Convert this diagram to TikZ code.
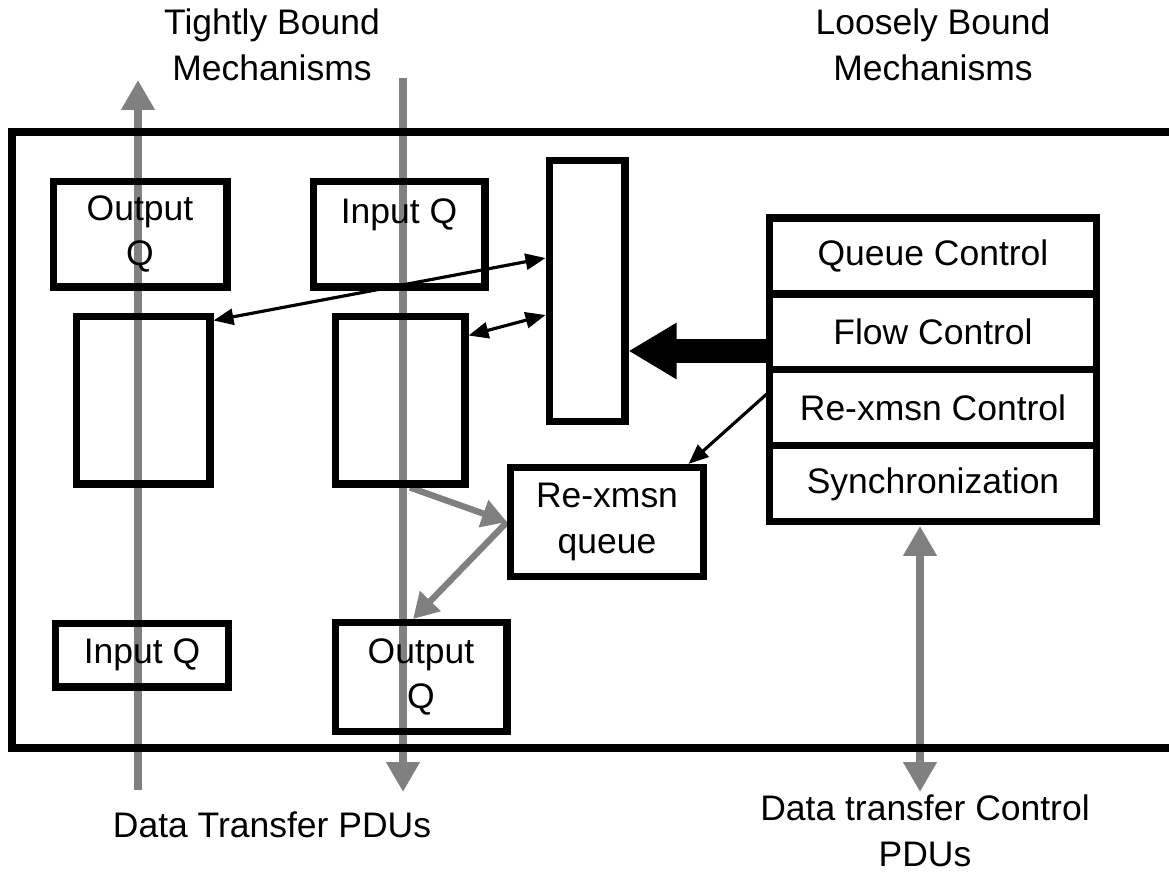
\documentclass[tikz,border=0pt]{standalone}
\usepackage{fontspec}
\setmainfont{Liberation Sans}
\usetikzlibrary{positioning,arrows.meta,backgrounds}
\tikzstyle{box} = [rectangle, draw=black, line width=4pt, inner sep=0pt, align=center]
\tikzstyle{ctrl} = [box, minimum width=6.56cm, minimum height=1.52cm, outer sep=0pt]
\tikzstyle{arrow} = [line width=1.8pt, -{Triangle[length=0.4cm,width=0.32cm]}]
\tikzstyle{darrow} = [arrow, {Triangle[length=0.4cm,width=0.32cm]}-{Triangle[length=0.4cm,width=0.32cm]}]
\tikzstyle{pdu} = [gray, line width=4.5pt, -{Triangle[length=0.6cm,width=0.64cm]}]
\tikzstyle{retx} = [gray, line width=3.6pt, -{Triangle[length=0.5cm,width=0.55cm]}]
\tikzstyle{big} = [line width=14pt, -{Triangle[length=0.96cm,width=1.06cm]}]

\begin{document}
\begin{tikzpicture}[x=0.02cm, y=-0.02cm, font=\fontsize{20.2}{26}\selectfont]
	\useasboundingbox (0,0) rectangle (1169,876);
	\clip (0,0) rectangle (1169,876);
	% outer frame, open to the right
	\draw[line width=4pt] (12,132) rectangle (1240,748);
	% headings
	\node[align=center] (tight) at (272,45) {Tightly Bound\\Mechanisms};
	\node[align=center] (loose) at (933,45) {Loosely Bound\\Mechanisms};
	\node (dtp) at (272,825) {Data Transfer PDUs};
	\node[align=center, inner sep=0pt] (dtcp) at (925,831) {Data transfer Control\\PDUs};
	% tightly bound part
	\node[box, minimum width=3.48cm, minimum height=2.12cm] (outQa) at (140,234) {Output\\Q};
	\node[box, minimum width=3.44cm, minimum height=2.12cm, label={[yshift=-1.2cm]north:Input Q}] (inQa) at (399,234) {};
	\node[box, minimum width=1.52cm, minimum height=5.24cm] (tall) at (587,291) {};
	\node[box, minimum width=2.68cm, minimum height=3.36cm] (lbox) at (143,400) {};
	\node[box, minimum width=2.6cm, minimum height=3.36cm] (mbox) at (400,400) {};
	\node[box, minimum width=3.86cm, minimum height=2.18cm] (rq) at (607,522) {Re-xmsn\\queue};
	\node[box, minimum width=3.46cm, minimum height=1.28cm] (inQb) at (142,655) {Input Q};
	\node[box, minimum width=3.44cm, minimum height=2.18cm] (outQb) at (421,677) {Output\\Q};
	% loosely bound part
	\node[ctrl] (qc) at (933,256) {Queue Control};
	\node[ctrl, below=0cm of qc] (fc) {Flow Control};
	\node[ctrl, below=0cm of fc] (rc) {Re-xmsn Control};
	\node[ctrl, below=0cm of rc] (sy) {Synchronization};
	% connectors
	\draw[darrow] ([yshift=0.66cm]tall.west) -- ([yshift=-0.16cm]lbox.north east);
	\draw[darrow] ([yshift=-0.48cm]tall.west) -- ([yshift=-0.46cm]mbox.north east);
	\coordinate (fcout) at ([yshift=-0.38cm]fc.west);
	\draw[big] (fcout) -- (fcout -| tall.east);
	\draw[arrow] ([yshift=0.32cm]rc.west) -- ([xshift=-0.37cm]rq.north east);
	\coordinate (upbot) at (138,790);
	\coordinate (uptop) at (138,80);
	\coordinate (dntop) at (403,78);
	\coordinate (dnbot) at (403,792);
	\coordinate (ctlbot) at (920,792);
	\begin{scope}[on background layer]
		\draw[retx] ([xshift=0.2cm]mbox.south) -- (rq.west);
		\draw[retx] (rq.west) -- ([xshift=-0.16cm]outQb.north);
		\draw[pdu] (upbot) -- (uptop);
		\draw[pdu] (dntop) -- (dnbot);
		\draw[pdu, {Triangle[length=0.6cm,width=0.64cm]}-{Triangle[length=0.6cm,width=0.64cm]}, shorten <=0.08cm] (ctlbot |- sy.south) -- (ctlbot);
	\end{scope}
\end{tikzpicture}
\end{document}
